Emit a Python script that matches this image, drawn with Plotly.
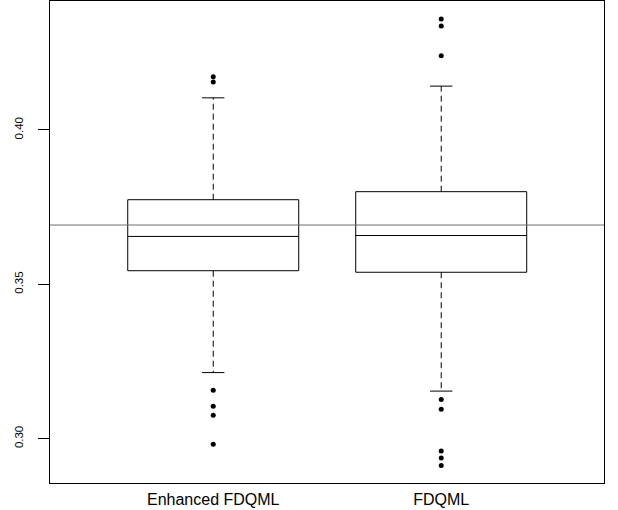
import plotly.graph_objects as go

# ---- data ----
categories = ["Enhanced FDQML", "FDQML"]
q1 = [0.3544, 0.3539]
median = [0.3655, 0.3658]
q3 = [0.3774, 0.3800]
lower_whisker = [0.3214, 0.3154]
upper_whisker = [0.4104, 0.4142]
outliers = [
    [0.4172, 0.4155, 0.3157, 0.3105, 0.3076, 0.2982],
    [0.4359, 0.4337, 0.4240, 0.3127, 0.3095, 0.2960, 0.2937, 0.2913],
]
reference_line = 0.3692
y_ticks = [0.30, 0.35, 0.40]
y_tick_labels = ["0.30", "0.35", "0.40"]

BOX_HALF = 0.375
CAP_HALF = 0.049

fig = go.Figure()
for i, name in enumerate(categories):
    c = i + 1
    # whiskers (dashed)
    fig.add_trace(go.Scatter(
        x=[c, c, None, c, c],
        y=[q3[i], upper_whisker[i], None, q1[i], lower_whisker[i]],
        mode="lines", line=dict(color="black", width=1, dash="6px,4px"),
        hoverinfo="skip", showlegend=False))
    # caps
    fig.add_trace(go.Scatter(
        x=[c - CAP_HALF, c + CAP_HALF, None, c - CAP_HALF, c + CAP_HALF],
        y=[upper_whisker[i], upper_whisker[i], None, lower_whisker[i], lower_whisker[i]],
        mode="lines", line=dict(color="black", width=1),
        hoverinfo="skip", showlegend=False))
    # box + median
    fig.add_trace(go.Scatter(
        x=[c - BOX_HALF, c + BOX_HALF, c + BOX_HALF, c - BOX_HALF, c - BOX_HALF, None,
           c - BOX_HALF, c + BOX_HALF],
        y=[q1[i], q1[i], q3[i], q3[i], q1[i], None, median[i], median[i]],
        mode="lines", line=dict(color="black", width=1),
        hoverinfo="skip", showlegend=False))
    # outliers
    fig.add_trace(go.Scatter(
        x=[c] * len(outliers[i]), y=outliers[i], mode="markers",
        marker=dict(color="black", size=5, line=dict(width=0)),
        name=name, showlegend=False))

fig.add_hline(y=reference_line, line=dict(color="#6e6e6e", width=1))

font = "Liberation Sans, Arial, sans-serif"
fig.update_layout(
    width=618, height=510,
    margin=dict(l=50, r=14, t=1, b=27, autoexpand=False),
    plot_bgcolor="white", paper_bgcolor="white",
    showlegend=False,
    xaxis=dict(
        range=[0.284, 2.714], tickvals=[1, 2], ticktext=categories,
        showgrid=False, zeroline=False, showline=True, mirror=True,
        linecolor="black", linewidth=1, ticks="outside", ticklen=2,
        tickcolor="rgba(0,0,0,0)",
        tickfont=dict(family=font, size=16, color="black"),
    ),
    yaxis=dict(
        range=[0.28563, 0.44177], tickvals=y_ticks, ticktext=y_tick_labels,
        tickangle=-90, showgrid=False, zeroline=False, showline=True, mirror=True,
        linecolor="black", linewidth=1, ticks="outside", ticklen=11,
        tickcolor="black", ticklabelstandoff=10,
        tickfont=dict(family=font, size=11.5, color="black"),
    ),
)

fig.write_html(
    "out.html",
    config={"displayModeBar": False, "staticPlot": True},
    post_script="document.body.style.margin='0px';document.body.style.overflow='hidden';",
)
